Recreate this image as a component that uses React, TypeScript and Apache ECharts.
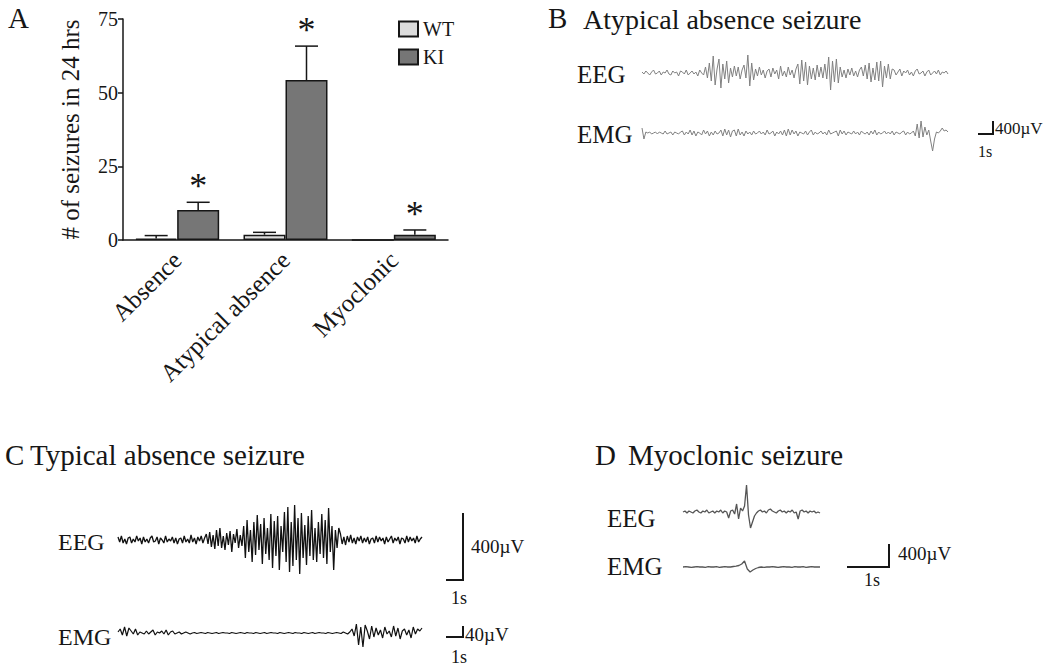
import React, { useEffect, useRef } from "react";
import * as echarts from "echarts";

const FONT = "'Liberation Serif', 'Times New Roman', Times, serif";
const INK = "#161616";

// ---------- Panel A data ----------
const categories = ["Absence", "Atypical absence", "Myoclonic"];
const wtMeans = [0.5, 1.8, 0];
const wtErrUpper = [1.5, 2.6, 0];
const kiMeans = [10.2, 54.3, 1.8];
const kiErrUpper = [12.8, 65.8, 3.4];
const kiSignificant = [true, true, true];
const yMin = 0;
const yMax = 75;
const yInterval = 25;

// ---------- Trace data (amplitude, relative units) ----------
const atypicalEEG = [
  1, -1, 2, 0, -2, 1, 3, -1, 0, 2, -2, 1, 0, 3, -1, -2, 2, 0, 1, -3, 2, 1, -1, 3, -2, 0, 2, -1, 1, -3, 3, 0, -2,
  6, -5, 10, -8, 17, -12, 4, 14, -15, 9, -6, 12, -10,
  5, -4, 7, -3, 6, -6, 3, 8, -5,
  18, -13, 10, -7,
  4, -3, 6, -2, 3, -5, 2, 4, -4, 5, -1, 3, -6, 7, -3, 2, -4, 6, -2, 3, -5, 4,
  9, -11, 13, -8, 11, -12, 7, -6,
  5, -7, 8, -4, 6, -5, 9, -6,
  16, -17, 12, -9, 14, -10,
  6, -4, 3, -5, 4, -2, 5, -3, 2, -4, 3, 6, -3,
  8, -6, 10, -9, 5, -7, 11, -8, 12, -14, 7, -5, 9, -6, 4,
  3, -2, 1, 4, -3, 2, 0, 3, -2, 1, -3, 2, 4, -1, 0, 2, -3, 1, 3, -2, 0, 2, -1, 3, -2, 1, 0, 2, -1,
];
const atypicalEMG = [
  5, -6, 1, 0,
  1, -1, 0, 1, -1, 1, 0, -1, 2, -1, 0, 1, -2, 1, 0, -1, 1, 2, -2, 1, -1, 3, -2, 2, -3, 1, 0, -2, 3, -1, 2, -3, 1, -2, 2, -1, 0,
  3, -3, 4, -2, 3, -4, 2, 3, -3, 4, -2, 1, -3, 2, -1,
  1, -2, 2, -1, 0, 2, -1, 1, -2, 3, -1, 0, 2, -3, 1, -1, 2, -2, 3, -3, 4, -2, 3, -1, 2, -3, 1, 0, -1, 2, -2, 1, 3, -2, 1, -1, 0, 2, -1, 1, -2, 3, -1, 0, 1,
  2, -3, 3, -1, 2, -2, 1, 0, -1, 2, -1, 1, -2, 2, 0, -1, 1, -2, 2, -1, 3, -2, 1, -1, 0, 2, -1, 1, -1, 2, -2, 1, 0, -1, 1, 2, -2, 1, -1, 0,
  2, -3, 9, -5, 12, -4, 6, -2, 3, -8, -18, -6, 1, 0, 2, 5, 2, 3, 1,
];
const typicalEEG = [
  3, -2, 4, -3, 1, -4, 2, 3, -3, 1, -2, 4, -1, 2, -4, 3, -2, 1, -3, 2, 4, -2, -1, 3, -4, 2, 0, -3, 4, -2, 1, -1, 3, -3, 2, -4, 1, 2, -3, 4, -2, 1, -3, 5, -2, 2, -4, 3, -1, 4, -3, 2,
  6, -4, 8, -7, 5, -9, 10, -6, 12, -8, 4, -10, 7, -5, 9, -12, 6, -3, 11, -8, 5, -6,
  14, -18, 20, -12, 10, -22, 18, -15, 25, -10, 16, -24, 22, -14, 12, -20, 26, -28, 19, -16,
  24, -30, 14, -12, 28, -22, 33, -32, 18, -26, 35, -20, 22, -34, 27, -18, 15, -25, 24, -16,
  30, -20, 12, -22, 18, -14, 26, -18, 20, -24, 32, -12, 14, -30, 10, -8, 12,
  6, -4, 3, -5, 4, -2, 5, -3, 2, -4, 3, -1, 4, -3, 2, -2, 3, -4, 1, 2, -3, 4, -2, 3, -1, 2, -4, 3, -2, 1,
  4, -3, 2, -1, 3, -4, 2, 1, -3, 4, -2, 3, -1, 2, -3, 4, -2, 1, 3,
];
const typicalEMG = [
  1, 4, -2, 6, -3, 5, 2, -1, 4, -2, 1,
  0, -1, 2, -1, 1, 3, -2, 1, 0, 2, -1, 3, -2, 1, 2, -1, 0, 1, -1, 0, 1, 0, -1,
  0, 0.5, -0.5, 0, 0.5, 0, -0.5, 0.5, 0, -0.5, 0, 0.5, -0.5, 0, 0.5, 0, 0, -0.5, 0.5, 0,
  -0.5, 0, 0.5, 0, -0.5, 0.5, 0, 0, -0.5, 0.5, 0, -0.5, 0, 0.5, -0.5, 0, 0.5, 0, 0, -0.5,
  0.5, 0, -0.5, 0, 0.5, 0, -0.5, 0.5, 0, 0, -0.5, 0.5, 0, -0.5, 0, 0.5, -0.5, 0, 0.5, 0,
  0, -0.5, 0.5, 0, -0.5, 0, 0.5, 0, -0.5, 1, 0, -1, 1,
  4, -3, 9, -12, 6, -14, 8, 2, -6, 7, -4, 5,
  -2, 3, -5, 6, -1, 2, -4, 7, -3, 5, -6, 2, 4, -2, 3, -5, 6, -1, 4, 2, 5,
];
const myoclonicEEG = [
  0, 1, -1, 1, 0, -1, 1, 2, 0, -1, 1, 0, 2, -1, 0, 1, -1, 1, 0, 2, -1, 1, 0,
  -6, 1, 2, -2, 8, -7, 4, 1, 6, 27, -3, -16, -10, -4, -1,
  1, 2, 0, 1, -1, 2, 3, 1, 0, -1, 1, 2, 0, 1, -1, 1, 0, 2, -1, 0, -7, 1, 2, 0, 1, -1, 1, 0, 1, -1, 0, -1,
];
const myoclonicEMG = [
  0, 0.3, 0, -0.3, 0, 0.3, 0, 0, -0.3, 0.3, 0, 0, 0.3, -0.3, 0, 0.3, 0, 0, 0.5, 0.8, 1.5,
  3, 6, -2, -5, -3, -1.5, -0.5,
  0, -0.3, 0, 0, 0.3, 0, -0.3, 0, 0.3, 0, 0, -0.3, 0.3, 0, 0, 0.3, -0.3, 0, 0.3, 0, 0, 0,
];

type Trace = { data: number[]; left: number; top: number; width: number; height: number; range: number; color: string; lw: number };

const traces: Trace[] = [
  { data: atypicalEEG, left: 642, top: 51, width: 306, height: 44, range: 22, color: "#808080", lw: 1 },
  { data: atypicalEMG, left: 642, top: 111, width: 306, height: 44, range: 22, color: "#808080", lw: 1 },
  { data: typicalEEG, left: 118, top: 500, width: 304, height: 80, range: 40, color: "#111111", lw: 1.3 },
  { data: typicalEMG, left: 118, top: 617, width: 304, height: 32, range: 16, color: "#111111", lw: 1.2 },
  { data: myoclonicEEG, left: 683, top: 482, width: 137, height: 60, range: 30, color: "#555555", lw: 1.3 },
  { data: myoclonicEMG, left: 683, top: 557, width: 137, height: 20, range: 10, color: "#555555", lw: 1.3 },
];

const txt = (text: string, x: number, y: number, size: number, align = "left") => ({
  type: "text",
  x,
  y,
  silent: true,
  style: { text, fontSize: size, fontFamily: FONT, fill: INK, align, verticalAlign: "middle" },
});
const bar = (points: number[][]) => ({
  type: "polyline",
  silent: true,
  shape: { points },
  style: { stroke: INK, lineWidth: 2, fill: "none" },
});

function errorSeries(means: number[], uppers: number[], offset: number, stars: boolean[] | null) {
  return {
    type: "custom",
    xAxisIndex: 0,
    yAxisIndex: 0,
    z: 4,
    silent: true,
    data: means.map((m, i) => [i, m, uppers[i], stars && stars[i] ? 1 : 0]),
    renderItem: (_params: any, api: any) => {
      const i = api.value(0);
      const m = api.value(1);
      const u = api.value(2);
      const s = api.value(3);
      const children: any[] = [];
      if (u > m) {
        const base = api.coord([i, m]);
        const top = api.coord([i, u]);
        const x = base[0] + offset;
        children.push({ type: "line", shape: { x1: x, y1: base[1], x2: x, y2: top[1] }, style: { stroke: INK, lineWidth: 1.5 } });
        children.push({ type: "line", shape: { x1: x - 11.5, y1: top[1], x2: x + 11.5, y2: top[1] }, style: { stroke: INK, lineWidth: 1.5 } });
        if (s) {
          children.push({
            type: "text",
            style: { text: "*", x, y: top[1] + 2, align: "center", verticalAlign: "bottom", fontSize: 36, fontFamily: FONT, fill: INK },
          });
        }
      }
      return { type: "group", children };
    },
  };
}

export default function App() {
  const ref = useRef<HTMLDivElement>(null);
  useEffect(() => {
    document.body.style.margin = "0";
    const chart = echarts.init(ref.current!, null, { renderer: "svg" });

    const grids: any[] = [{ left: 123, top: 19, width: 325, height: 221 }];
    const xAxes: any[] = [
      {
        type: "category",
        gridIndex: 0,
        data: categories,
        axisLine: { lineStyle: { color: INK, width: 1.5 } },
        axisTick: { alignWithLabel: true, length: 6, lineStyle: { color: INK, width: 1.5 } },
        axisLabel: { rotate: 45, fontSize: 25, fontFamily: FONT, color: INK, margin: 16, interval: 0 },
      },
    ];
    const yAxes: any[] = [
      {
        type: "value",
        gridIndex: 0,
        min: yMin,
        max: yMax,
        interval: yInterval,
        axisLine: { show: true, lineStyle: { color: INK, width: 1.5 } },
        axisTick: { show: true, length: 5, lineStyle: { color: INK, width: 1.5 } },
        axisLabel: { fontSize: 20, fontFamily: FONT, color: INK, margin: 5 },
        splitLine: { show: false },
        name: "# of seizures in 24 hrs",
        nameLocation: "middle",
        nameGap: 40,
        nameRotate: 90,
        nameTextStyle: { fontSize: 25, fontFamily: FONT, color: INK },
      },
    ];
    const series: any[] = [
      {
        name: "WT",
        type: "bar",
        xAxisIndex: 0,
        yAxisIndex: 0,
        data: wtMeans,
        barWidth: 42,
        barGap: "0%",
        itemStyle: { color: "#dcdcdc", borderColor: INK, borderWidth: 1.5 },
      },
      {
        name: "KI",
        type: "bar",
        xAxisIndex: 0,
        yAxisIndex: 0,
        data: kiMeans,
        barWidth: 42,
        barGap: "0%",
        itemStyle: { color: "#767676", borderColor: INK, borderWidth: 1.5 },
      },
      errorSeries(wtMeans, wtErrUpper, -21, null),
      errorSeries(kiMeans, kiErrUpper, 21, kiSignificant),
    ];

    traces.forEach((t, k) => {
      const gi = k + 1;
      grids.push({ left: t.left, top: t.top, width: t.width, height: t.height });
      xAxes.push({ type: "value", gridIndex: gi, min: 0, max: t.data.length - 1, show: false });
      yAxes.push({ type: "value", gridIndex: gi, min: -t.range, max: t.range, show: false });
      series.push({
        type: "line",
        xAxisIndex: gi,
        yAxisIndex: gi,
        data: t.data.map((v, i) => [i, v]),
        showSymbol: false,
        symbol: "none",
        silent: true,
        lineStyle: { color: t.color, width: t.lw },
      });
    });

    chart.setOption({
      animation: false,
      backgroundColor: "#ffffff",
      grid: grids,
      xAxis: xAxes,
      yAxis: yAxes,
      legend: {
        data: ["WT", "KI"],
        orient: "vertical",
        left: 393,
        top: 14,
        icon: "rect",
        itemWidth: 19,
        itemHeight: 15,
        itemGap: 8,
        selectedMode: false,
        textStyle: { fontSize: 20, fontFamily: FONT, color: INK },
      },
      series,
      graphic: [
        txt("A", 8, 18, 29),
        txt("B", 548, 18, 29),
        txt("C", 5, 455, 29),
        txt("D", 595, 455, 29),
        txt("Atypical absence seizure", 583, 19, 28),
        txt("Typical absence seizure", 30, 455, 29),
        txt("Myoclonic seizure", 628, 455, 29),
        txt("EEG", 577, 74, 25),
        txt("EMG", 577, 134, 25),
        txt("EEG", 58, 542, 24),
        txt("EMG", 58, 637, 24),
        txt("EEG", 607, 518, 25),
        txt("EMG", 607, 566, 25),
        bar([[978, 134], [993, 134], [993, 121]]),
        txt("400µV", 995, 128, 17),
        txt("1s", 978, 151, 16),
        bar([[446, 580], [463, 580], [463, 513]]),
        txt("400µV", 471, 546, 19),
        txt("1s", 451, 598, 18),
        bar([[446, 637], [463, 637], [463, 626]]),
        txt("40µV", 465, 634, 19),
        txt("1s", 451, 657, 18),
        bar([[847, 567], [889, 567], [889, 544]]),
        txt("400µV", 898, 553, 19),
        txt("1s", 864, 580, 18),
      ],
    });
    return () => chart.dispose();
  }, []);
  return <div ref={ref} style={{ position: "fixed", left: 0, top: 0, width: 1050, height: 666 }} />;
}
